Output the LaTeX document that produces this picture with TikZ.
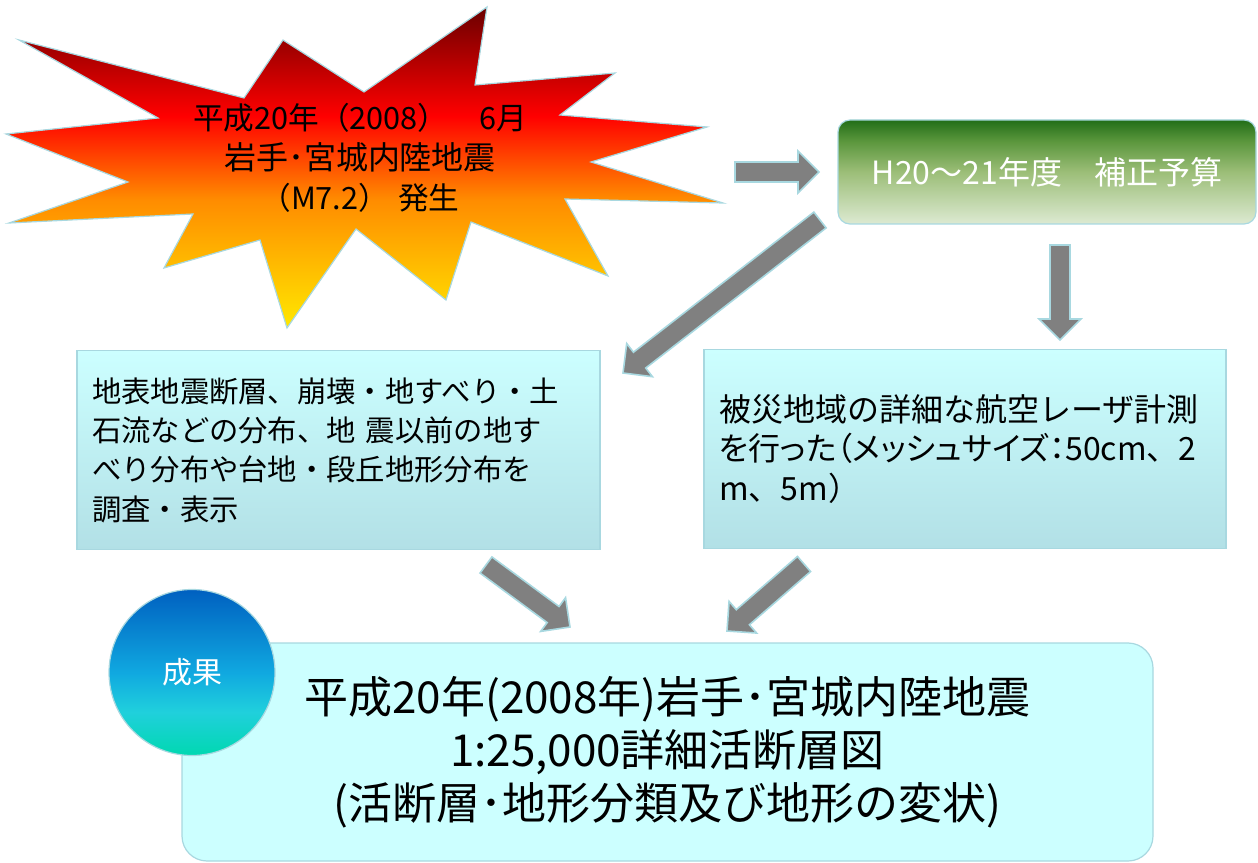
\documentclass[tikz,border=0pt]{standalone}
\usepackage{fontspec}
\setmainfont{Noto Sans CJK JP}
\usetikzlibrary{calc}
\definecolor{edge}{HTML}{A8D8E0}
\definecolor{arrowgray}{HTML}{808080}
\definecolor{bdark}{HTML}{6A0000}
\definecolor{bred}{HTML}{FF0000}
\definecolor{borange}{HTML}{FF8C00}
\definecolor{byellow}{HTML}{FFE800}
\definecolor{gdark}{HTML}{226E18}
\definecolor{gmid}{HTML}{5A963C}
\definecolor{glight}{HTML}{9CBE78}
\definecolor{gpale}{HTML}{DDEAD2}
\definecolor{cdark}{HTML}{0060C0}
\definecolor{cmid}{HTML}{10A8E0}
\definecolor{ccyan}{HTML}{20D0DC}
\definecolor{cteal}{HTML}{00D8B0}
\definecolor{boxtop}{HTML}{CCFFFF}
\definecolor{boxbot}{HTML}{B2E0E6}
\definecolor{resfill}{HTML}{CCFFFF}
\pgfdeclareverticalshading{burstshade}{100bp}{color(0bp)=(byellow); color(25bp)=(byellow); color(45bp)=(borange); color(58bp)=(bred); color(75bp)=(bdark); color(100bp)=(bdark)}
\pgfdeclareverticalshading{greenshade}{100bp}{color(0bp)=(gpale); color(25bp)=(gpale); color(50bp)=(glight); color(65bp)=(gmid); color(75bp)=(gdark); color(100bp)=(gdark)}
\pgfdeclareverticalshading{circshade}{100bp}{color(0bp)=(cteal); color(25bp)=(cteal); color(38bp)=(ccyan); color(50bp)=(cmid); color(75bp)=(cdark); color(100bp)=(cdark)}
\newcommand{\blockarrow}[2]{%
  \coordinate (bah) at ($(#2)!15.75pt!(#1)$);
  \draw[blockarr] ($(#1)!7.5pt!90:(#2)$) -- ($(bah)!7.5pt!90:(#2)$) -- ($(bah)!15.75pt!90:(#2)$) -- (#2) -- ($(bah)!15.75pt!-90:(#2)$) -- ($(bah)!7.5pt!-90:(#2)$) -- ($(#1)!7.5pt!-90:(#2)$) -- cycle;}
\newcommand{\proptext}[1]{{\addfontfeatures{RawFeature=+palt}#1}}
\tikzset{
  blockarr/.style={fill=arrowgray, draw=edge, line width=1.2pt, line join=miter},
  infobox/.style={draw=edge, line width=0.9pt, top color=boxtop, bottom color=boxbot,
    minimum height=149.25pt, inner xsep=11.25pt, align=left},
}
\begin{document}
\begin{tikzpicture}[x=0.75pt,y=-0.75pt]
\useasboundingbox (0,0) rectangle (1258,863);
% starburst
\draw[draw=edge, line width=0.9pt, shading=burstshade, line join=miter]
  (19,40) -- (244,98) -- (283,40) -- (364,92) -- (487,7) -- (475,85) -- (615,73)
  -- (560,115) -- (707,127) -- (591,162) -- (723,203) -- (565,199) -- (608,276)
  -- (471,222) -- (446,300) -- (356,229) -- (287,328) -- (260,240) -- (164,268)
  -- (193,214) -- (9,223) -- (128,182) -- (6,134) -- (158,118) -- cycle;
\node[align=center, font=\fontsize{23}{30}\selectfont] (quake) at (360,158)
  {平成20年（2008）　6月\\{\fontsize{24}{30}\selectfont 岩手･宮城内陸地震}\\（M7.2）\hspace{0.3em}発生};
% green budget box
\node[draw=edge, line width=0.9pt, shading=greenshade, rounded corners=9pt,
  minimum width=313.5pt, minimum height=78pt, text=white,
  font=\fontsize{24}{28}\selectfont] (budget) at (1047,172) {H20～21年度　補正予算};
% info boxes
\node[infobox, text width=369.75pt, font=\fontsize{22}{29.5}\selectfont] (survey) at (338.5,450)
  {地表地震断層、崩壊・地すべり・土\\石流などの分布、地 震以前の地す\\べり分布や台地・段丘地形分布を\\調査・表示};
\node[infobox, text width=369pt, font=\fontsize{24}{29.5}\selectfont] (laser) at (965,449)
  {被災地域の詳細な航空レーザ計測\\\proptext{を行った（メッシュサイズ：50cm}、2\\m、5m）};
% result box
\node[draw=edge, line width=0.9pt, fill=resfill, rounded corners=18.75pt,
  minimum width=728.25pt, minimum height=163.5pt, align=center,
  font=\fontsize{33}{39.75}\selectfont] (result) at (667.5,752)
  {平成20年(2008年)岩手･宮城内陸地震\\1:25,000詳細活断層図\\(活断層･地形分類及び地形の変状)};
\node[circle, draw=edge, line width=0.9pt, shading=circshade, minimum size=124.5pt,
  inner sep=0pt, text=white, font=\fontsize{22.5}{27}\selectfont] (seika) at (192,672.5) {成果};
% arrows
\coordinate (a1s) at (735,172); \coordinate (a1e) at (819,172);
\coordinate (a2s) at (820,220); \coordinate (a2e) at (623,373);
\coordinate (a3s) at (1060,245); \coordinate (a3e) at (1060,340);
\coordinate (a4s) at (486,565); \coordinate (a4e) at (570,627);
\coordinate (a5s) at (804,564); \coordinate (a5e) at (727,631);
\blockarrow{a1s}{a1e}
\blockarrow{a2s}{a2e}
\blockarrow{a3s}{a3e}
\blockarrow{a4s}{a4e}
\blockarrow{a5s}{a5e}
\end{tikzpicture}
\end{document}
